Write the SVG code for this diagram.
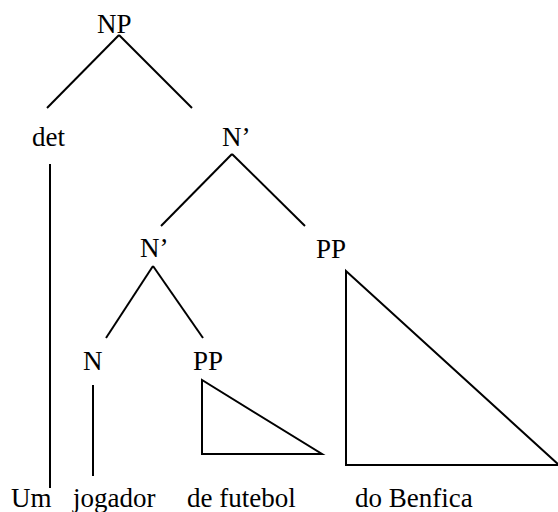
<svg xmlns="http://www.w3.org/2000/svg" width="558" height="512" viewBox="0 0 558 512">
<style>
text{font-family:"Liberation Serif","Times New Roman",serif;font-size:27px;fill:#000}
.e{stroke:#000;stroke-width:2;fill:none;stroke-linecap:butt}
</style>
<rect width="558" height="512" fill="#fff"/>
<g id="connectors">
<line class="e" x1="119" y1="35" x2="47" y2="108"/>
<line class="e" x1="119" y1="35" x2="192" y2="108"/>
<line class="e" x1="50" y1="164" x2="50" y2="488"/>
<line class="e" x1="232" y1="154" x2="161" y2="226"/>
<line class="e" x1="232" y1="154" x2="305" y2="226"/>
<line class="e" x1="153" y1="266" x2="106" y2="338"/>
<line class="e" x1="153" y1="266" x2="203" y2="338"/>
<line class="e" x1="93" y1="385" x2="93" y2="476"/>
<polygon class="e" points="202,380 202,454 322,454"/>
<polygon class="e" points="346,271 346,465 559,465"/>
</g>
<g id="NP"><text x="97" y="33">NP</text></g>
<g id="det"><text x="32" y="146">det</text></g>
<g id="Nbar1"><text x="222" y="146">N’</text></g>
<g id="Nbar2"><text x="140" y="257">N’</text></g>
<g id="PP1"><text x="316" y="258">PP</text></g>
<g id="N"><text x="83" y="370">N</text></g>
<g id="PP2"><text x="193" y="370">PP</text></g>
<g id="Um"><text x="11" y="507">Um</text></g>
<g id="jogador"><text x="73" y="507">jogador</text></g>
<g id="de_futebol"><text x="187" y="507">de futebol</text></g>
<g id="do_Benfica"><text x="355" y="507">do Benfica</text></g>
</svg>
